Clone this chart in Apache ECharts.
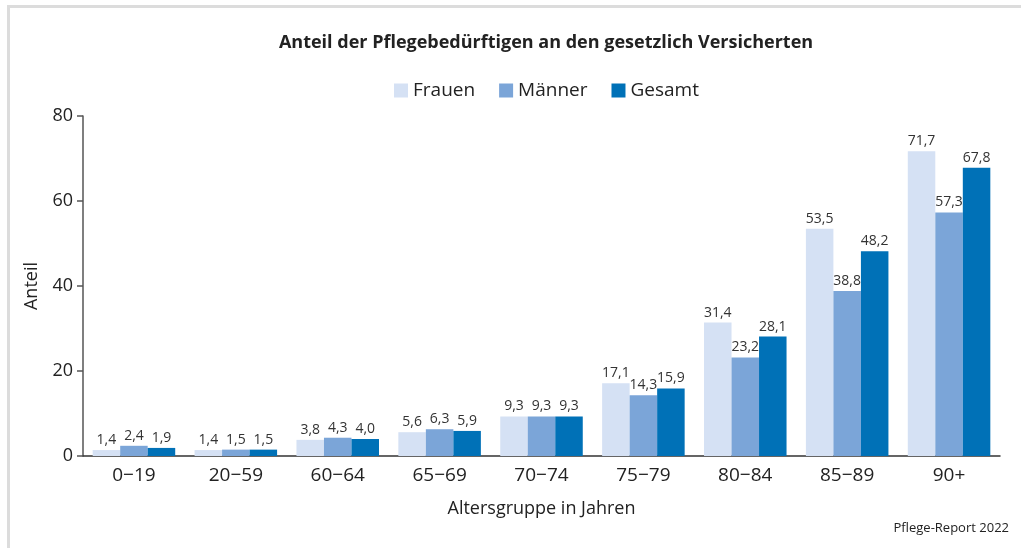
<!DOCTYPE html>
<html>
<head>
<meta charset="utf-8">
<script src="https://cdn.jsdelivr.net/npm/echarts@6/dist/echarts.min.js"></script>
<style>
  html, body { margin: 0; padding: 0; background: #fff; }
  #frame {
    position: absolute; left: 7px; top: 5px; right: 0; bottom: 0;
    border-top: 3px solid #dcdcdc; border-left: 3px solid #dcdcdc;
  }
  #chart { position: absolute; left: 0; top: 0; width: 1021px; height: 548px; }
</style>
</head>
<body>
<div id="frame"></div>
<div id="chart"></div>
<script>
const categories = ['0\u221219', '20\u221259', '60\u221264', '65\u221269', '70\u221274', '75\u221279', '80\u221284', '85\u221289', '90+']
const frauen = [1.4, 1.4, 3.8, 5.6, 9.3, 17.1, 31.4, 53.5, 71.7]
const maenner = [2.4, 1.5, 4.3, 6.3, 9.3, 14.3, 23.2, 38.8, 57.3]
const gesamt = [1.9, 1.5, 4.0, 5.9, 9.3, 15.9, 28.1, 48.2, 67.8]

const font = '"Open Sans", "Noto Sans", sans-serif'

const chart = echarts.init(document.getElementById('chart'))

function makeSeries(name, data, color) {
  return {
    name: name,
    type: 'bar',
    data: data,
    barGap: '0%',
    barCategoryGap: '19%',
    itemStyle: { color: color },
    label: {
      show: true,
      position: 'top',
      distance: 3,
      fontFamily: font,
      fontSize: 14,
      color: '#333',
      formatter: p => p.value.toFixed(1).replace('.', ',')
    }
  }
}

chart.setOption({
  animation: false,
  title: {
    text: 'Anteil der Pflegebedürftigen an den gesetzlich Versicherten',
    left: 541,
    textAlign: 'center',
    top: 29,
    textStyle: { fontFamily: font, fontSize: 18, fontWeight: 'bold', color: '#222' }
  },
  legend: {
    top: 76,
    left: 389,
    itemWidth: 14,
    itemHeight: 14,
    itemGap: 24,
    icon: 'rect',
    textStyle: { fontFamily: font, fontSize: 19, color: '#222' },
    data: ['Frauen', 'Männer', 'Gesamt']
  },
  graphic: [{
    type: 'text',
    right: 12,
    top: 522,
    style: { text: 'Pflege-Report 2022', font: '13px ' + font, fill: '#222' }
  }],
  grid: { left: 83, right: 21, top: 116, bottom: 92 },
  xAxis: {
    type: 'category',
    data: categories,
    name: 'Altersgruppe in Jahren',
    nameLocation: 'middle',
    nameGap: 44,
    nameTextStyle: { fontFamily: font, fontSize: 18, color: '#222' },
    axisLine: { lineStyle: { color: '#333', width: 1.5 } },
    axisTick: { show: false },
    axisLabel: { fontFamily: font, fontSize: 19, color: '#222', margin: 10 }
  },
  yAxis: {
    type: 'value',
    min: 0,
    max: 80,
    interval: 20,
    name: 'Anteil',
    nameLocation: 'middle',
    nameGap: 42,
    nameTextStyle: { fontFamily: font, fontSize: 18, color: '#222' },
    axisLine: { show: true, lineStyle: { color: '#555', width: 1.5 } },
    axisTick: { show: true, length: 6, lineStyle: { color: '#555', width: 1.5 } },
    splitLine: { show: false },
    axisLabel: { fontFamily: font, fontSize: 18, color: '#222', margin: 10 }
  },
  series: [
    makeSeries('Frauen', frauen, '#d5e1f4'),
    makeSeries('Männer', maenner, '#7ba5d8'),
    makeSeries('Gesamt', gesamt, '#0071b7')
  ]
})
</script>
</body>
</html>
